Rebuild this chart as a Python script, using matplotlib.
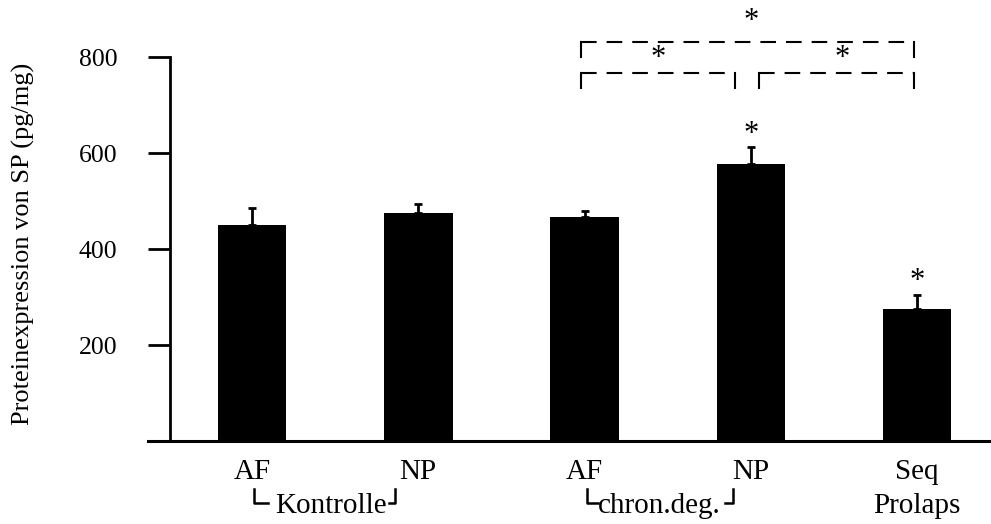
import matplotlib
matplotlib.use("Agg")
import matplotlib.pyplot as plt
import matplotlib.transforms as mtransforms
import numpy as np

# data
labels = ["AF", "NP", "AF", "NP", "Seq\nProlaps"]
means = [451, 475, 467, 577, 275]
sem = [34, 20, 13, 36, 30]
star_bars = [3, 4]          # bars with a star above the error bar
yticks = [200, 400, 600, 800]

# significance brackets: (x from, x to, height, drop)
brackets = [(1.977, 2.904, 768, 735),
            (3.05, 3.98, 768, 735),
            (1.977, 3.98, 831, 801)]
bracket_stars = [(2.44, 810), (3.55, 810), (3.0, 886)]

plt.rcParams['font.family'] = ['Liberation Serif', 'DejaVu Serif']

fig = plt.figure(figsize=(9.91, 5.24), dpi=100)
ax = fig.add_axes([148 / 991, 82.7 / 524, 843 / 991, 384 / 524])

x = np.arange(len(means))
ax.bar(x, means, width=0.412, color='black', zorder=2)
ax.errorbar(x, means, yerr=[np.zeros(len(sem)), sem], fmt='none', ecolor='black',
            elinewidth=2, capsize=3.2, capthick=2, zorder=1)

ax.set_xlim(-0.625, 4.444)
ax.set_ylim(0, 800)

for s in ['top', 'right']:
    ax.spines[s].set_visible(False)
ax.spines['left'].set_position(('data', -0.493))
ax.spines['left'].set_bounds(0, 800)
ax.spines['left'].set_linewidth(2)
ax.spines['bottom'].set_linewidth(2.2)

ax.set_yticks(yticks)
ax.tick_params(axis='y', length=15.8, width=2, pad=22, labelsize=18.5)
ax.set_xticks(x)
ax.set_xticklabels(labels, fontsize=21, linespacing=1.4)
ax.tick_params(axis='x', length=0, pad=13)

fig.text(23 / 991, 1 - 243.5 / 524, "Proteinexpression von SP (pg/mg)",
         rotation=90, ha='center', va='center', fontsize=19)

# stars above bars
for i in star_bars:
    ax.annotate("*", (x[i], means[i] + sem[i]), xytext=(0, 4), textcoords='offset points',
                ha='center', va='baseline', fontsize=22, annotation_clip=False)

# dashed brackets
for x0, x1, yh, yd in brackets:
    ax.plot([x0, x1], [yh, yh], color='black', lw=1.5, dashes=(7.5, 4.8), clip_on=False)
    ax.plot([x0, x0], [yh, yd], color='black', lw=1.5, clip_on=False)
    ax.plot([x1, x1], [yh, yd], color='black', lw=1.5, clip_on=False)
for sx, sy in bracket_stars:
    ax.text(sx, sy - 28, "*", ha='center', va='baseline', fontsize=22, clip_on=False)

# group labels with corner marks
trans = mtransforms.blended_transform_factory(ax.transData, ax.transAxes)
ax.text(0.475, -0.1867, "Kontrolle", transform=trans, ha='center', va='baseline', fontsize=21)
ax.text(2.45, -0.1867, "chron.deg.", transform=trans, ha='center', va='baseline', fontsize=21)
y_top, y_bot = -0.124, -0.161
for xl, xr, hl, hr in [(0.014, 0.862, 0.08, 0.035), (2.017, 2.892, 0.065, 0.045)]:
    ax.plot([xl, xl, xl + hl], [y_top, y_bot, y_bot], color='black', lw=1.8,
            transform=trans, clip_on=False)
    ax.plot([xr - hr, xr, xr], [y_bot, y_bot, y_top], color='black', lw=1.8,
            transform=trans, clip_on=False)

fig.savefig("out.png", dpi=100)
